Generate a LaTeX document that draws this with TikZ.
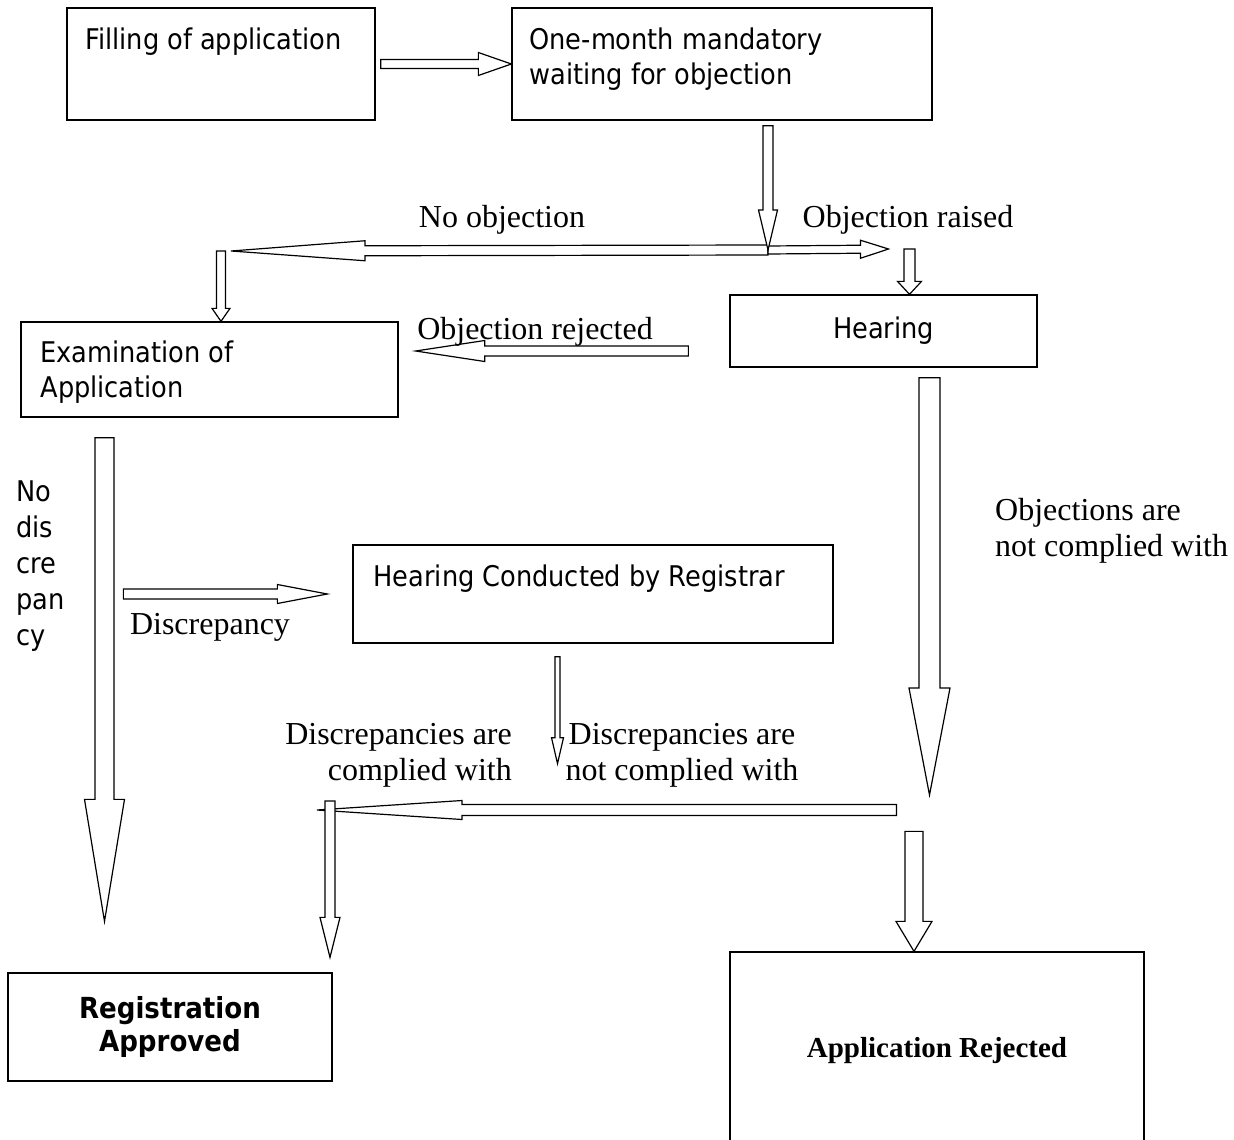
\documentclass[tikz,border=0pt]{standalone}
\usepackage{fontspec}
\setmainfont{Liberation Serif}
\newfontfamily\boxfont{DejaVu Sans Condensed}
\usetikzlibrary{positioning,calc}

\tikzset{
  box/.style      = {draw, rectangle, line width=1.3pt, inner sep=0pt},
  boxtext/.style  = {inner sep=0pt, align=left, font=\boxfont\fontsize{28.5}{35}\selectfont},
  lbl/.style      = {inner sep=0pt, font=\fontsize{32}{36}\selectfont},
  arrowbody/.style = {draw, fill=white, line width=1.2pt, line join=miter}
}

% hollow block arrow: from, to, shaft half width, head half width, head length
\newcommand{\blockarrow}[5]{%
  \coordinate (ba-s) at #1;
  \coordinate (ba-e) at #2;
  \coordinate (ba-h) at ($(ba-e)!#5!(ba-s)$);
  \draw[arrowbody] ($(ba-s)!#3!90:(ba-e)$) -- ($(ba-h)!#3!90:(ba-e)$)
    -- ($(ba-h)!#4!90:(ba-e)$) -- (ba-e) -- ($(ba-h)!#4!-90:(ba-e)$)
    -- ($(ba-h)!#3!-90:(ba-e)$) -- ($(ba-s)!#3!-90:(ba-e)$) -- cycle;
}

\begin{document}
\begin{tikzpicture}[x=1pt, y=-1pt]
\useasboundingbox (0,0) rectangle (1234,1140);

% the boxes
\node[box, minimum width=308pt, minimum height=112pt] (fill) at (221,64) {};
\node[box, minimum width=420pt, minimum height=112pt] (wait) at (722,64) {};
\node[box, minimum width=307pt, minimum height=72pt, font=\boxfont\fontsize{28.5}{35}\selectfont] (hear) at (883.5,331) {Hearing};
\node[box, minimum width=377pt, minimum height=95pt] (exam) at (209.5,369.5) {};
\node[box, minimum width=480pt, minimum height=98pt] (reg) at (593,594) {};
\node[box, minimum width=324pt, minimum height=108pt, align=center,
      font=\boxfont\bfseries\fontsize{29}{33}\selectfont] (appr) at (170,1027) {Registration\\Approved};
\node[box, minimum width=414pt, minimum height=198pt,
      font=\bfseries\fontsize{29}{32}\selectfont] (rej) at (937,1051) {Application Rejected};

% text in the upper left of the boxes
\node[boxtext, below right=20pt and 19pt of fill.north west] (fill-t) {Filling of application};
\node[boxtext, below right=20pt and 18pt of wait.north west] (wait-t) {One-month mandatory\\waiting for objection};
\node[boxtext, below right=19pt and 20pt of exam.north west] (exam-t) {Examination of\\Application};
\node[boxtext, below right=20pt and 21pt of reg.north west] (reg-t) {Hearing Conducted by Registrar};

% junctions of the arrows
\coordinate (split) at (768,250);
\coordinate (left) at (221,251);
\coordinate (right) at (909.5,249);
\coordinate (merge) at (929.5,795);
\coordinate (joint) at (330,810);

% the block arrows
\blockarrow{($(fill.east)+(5,0)$)}{(wait.west)}{4.5pt}{11.5pt}{33pt}
\blockarrow{(split)}{($(left)+(10,0)$)}{5pt}{10pt}{134pt}
\blockarrow{(split)}{($(right)+(-21,0)$)}{4pt}{9pt}{28pt}
\blockarrow{($(wait.south -| split)+(0,5)$)}{(split)}{5pt}{9.5pt}{40pt}
\blockarrow{(left)}{(left |- exam.north)}{4.5pt}{9pt}{13pt}
\blockarrow{(right)}{(right |- hear.north)}{5.5pt}{12pt}{13pt}
\blockarrow{($(hear.west)+(-41,20)$)}{($(exam.east)+(17,-18.5)$)}{5pt}{10.5pt}{69pt}
\blockarrow{($(exam.south)+(-105,20)$)}{($(appr.north)+(-65.5,-51)$)}{9.5pt}{20pt}{122pt}
\blockarrow{($(reg.west)+(-229,0)$)}{($(reg.west)+(-25,0)$)}{5pt}{9.5pt}{50pt}
\blockarrow{($(reg.south)+(-35.5,13)$)}{($(reg.south)+(-35.5,120)$)}{2.5pt}{6pt}{26pt}
\blockarrow{($(hear.south)+(46,10)$)}{(merge)}{10.5pt}{20.5pt}{107pt}
\blockarrow{($(merge)+(-33,15)$)}{($(joint)+(-13,0)$)}{5.5pt}{9.5pt}{145pt}
\blockarrow{($(joint)+(0,-9)$)}{($(joint |- appr.north)+(0,-15)$)}{5pt}{10pt}{40pt}
\blockarrow{($(rej.north)+(-23,-120)$)}{($(rej.north)+(-23,0)$)}{9pt}{18pt}{30pt}

% labels of the arrows
\node[lbl] (noobj-l) at (502,220) {No objection};
\node[lbl] (objr-l) at (908,220) {Objection raised};
\node[lbl] (objrej-l) at (535,332) {Objection rejected};
\node[lbl] (disc-l) at (210,627) {Discrepancy};
\node[lbl, align=left, anchor=west] (objnc-l) at (995,531) {Objections are\\not complied with};
\node[lbl, align=right, anchor=east] (dc-l) at (512,755) {Discrepancies are\\complied with};
\node[lbl, align=center] (dnc-l) at (682,755) {Discrepancies are\\not complied with};
\node[boxtext, anchor=west, font=\boxfont\fontsize{28.5}{36}\selectfont] (nodisc-l) at (16,566) {No\\dis\\cre\\pan\\cy};

\end{tikzpicture}
\end{document}
